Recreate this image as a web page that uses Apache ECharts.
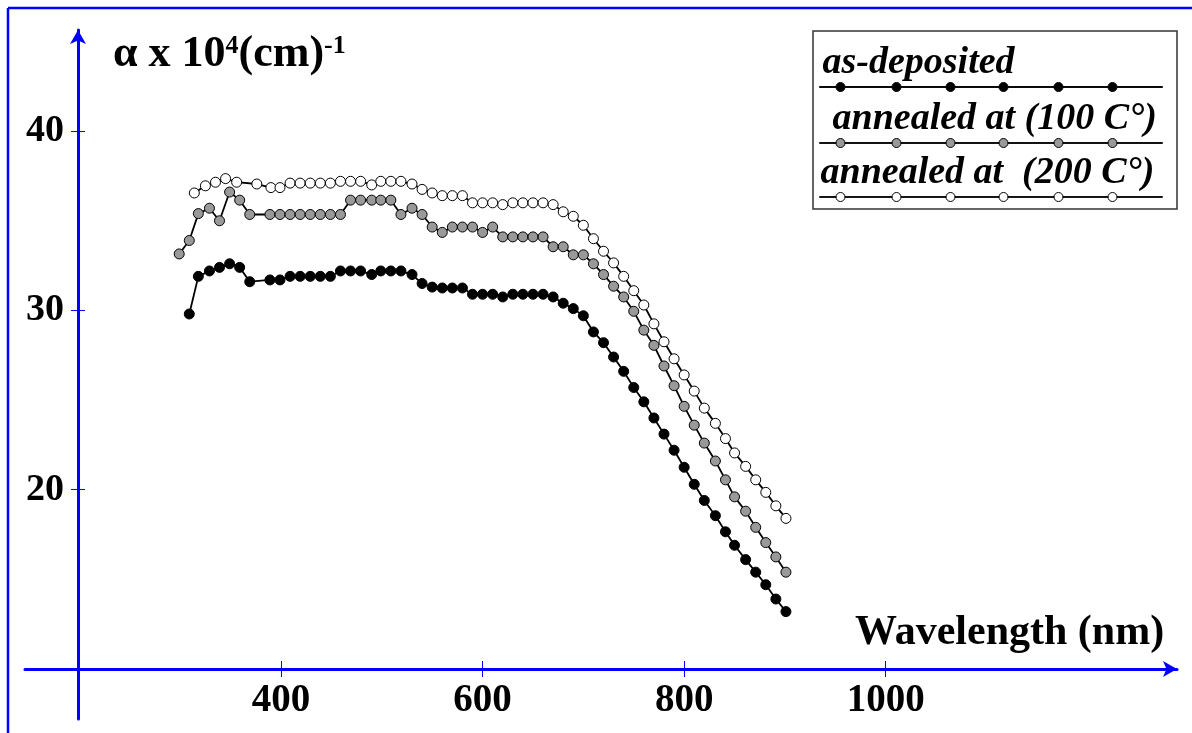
<!DOCTYPE html>
<html>
<head>
<meta charset="utf-8">
<title>Absorption coefficient vs wavelength</title>
<script src="https://cdn.jsdelivr.net/npm/echarts@6/dist/echarts.min.js"></script>
<style>
  html, body { margin: 0; padding: 0; background: #fff; }
  #main { width: 1192px; height: 733px; }
</style>
</head>
<body>
<div id="main"></div>
<script>
// data (wavelength nm, alpha x 10^4 cm^-1)
var names = ['as-deposited', 'annealed at (100 C°)', 'annealed at  (200 C°)'];
var fills = ['#000000', '#999999', '#ffffff'];

var asDepX = [309, 318, 329, 339, 349, 359, 369, 389, 399, 409, 419, 429, 439, 449, 459, 469, 479, 490, 499, 509, 519, 530,
  540, 550, 560, 570, 580, 590, 600, 610, 620, 630, 640, 650, 660, 670, 680, 690, 700, 710, 720, 730, 740, 750, 760, 770,
  780, 790, 800, 810, 820, 831, 841, 850, 861, 871, 881, 891, 901];
var asDepY = [29.8, 31.9, 32.2, 32.4, 32.6, 32.4, 31.6, 31.7, 31.7, 31.9, 31.9, 31.9, 31.9, 31.9, 32.2, 32.2, 32.2, 32.0, 32.2, 32.2, 32.2, 32.0,
  31.5, 31.3, 31.25, 31.25, 31.25, 30.9, 30.9, 30.9, 30.75, 30.9, 30.9, 30.9, 30.9, 30.75, 30.4, 30.1, 29.7, 28.8, 28.2, 27.4, 26.6, 25.7, 24.9, 24.0,
  23.1, 22.2, 21.25, 20.3, 19.4, 18.55, 17.65, 16.9, 16.1, 15.4, 14.7, 13.9, 13.2];

var ann100X = [299, 309, 318, 329, 339, 349, 359, 369, 389, 399, 409, 419, 429, 439, 449, 459, 469, 479, 490, 499, 509, 519,
  530, 540, 550, 560, 570, 580, 590, 600, 610, 620, 630, 640, 650, 660, 670, 680, 690, 700, 710, 720, 730, 740, 750, 760,
  770, 780, 790, 800, 810, 820, 831, 841, 850, 861, 871, 881, 891, 901];
var ann100Y = [33.15, 33.9, 35.4, 35.7, 35.0, 36.6, 36.15, 35.35, 35.35, 35.35, 35.35, 35.35, 35.35, 35.35, 35.35, 35.35, 36.15, 36.15, 36.15, 36.15, 36.15, 35.35,
  35.7, 35.35, 34.65, 34.35, 34.65, 34.65, 34.65, 34.35, 34.65, 34.1, 34.1, 34.1, 34.1, 34.1, 33.55, 33.55, 33.1, 33.1, 32.6, 32.0, 31.35, 30.75, 29.95, 28.9,
  28.05, 26.9, 25.8, 24.65, 23.6, 22.6, 21.6, 20.55, 19.6, 18.8, 17.9, 17.05, 16.25, 15.4];

var ann200X = [314, 325, 335, 345, 356, 376, 390, 399, 409, 419, 429, 439, 449, 459, 469, 479, 490, 499, 509, 519, 530,
  540, 550, 560, 570, 580, 590, 600, 610, 620, 630, 640, 650, 660, 670, 680, 690, 700, 710, 720, 730, 740, 750, 760, 770,
  780, 790, 800, 810, 820, 831, 841, 850, 861, 871, 881, 891, 901];
var ann200Y = [36.55, 36.95, 37.15, 37.35, 37.15, 37.05, 36.85, 36.85, 37.1, 37.1, 37.1, 37.1, 37.1, 37.2, 37.2, 37.2, 37.0, 37.2, 37.2, 37.2, 37.05,
  36.75, 36.55, 36.4, 36.4, 36.4, 36.0, 36.0, 36.0, 35.9, 36.0, 36.0, 36.0, 36.0, 35.9, 35.5, 35.25, 34.75, 34.0, 33.3, 32.65, 31.9, 31.1, 30.3, 29.25,
  28.25, 27.3, 26.4, 25.5, 24.55, 23.7, 22.85, 22.05, 21.3, 20.55, 19.85, 19.1, 18.4];

var xTicks = [400, 600, 800, 1000];
var yTicks = [20, 30, 40];

var BLUE = '#0000ff';
var SERIF = "'Liberation Serif', 'DejaVu Serif', serif";

function pairs(xs, ys) {
    var out = [];
    for (var i = 0; i < xs.length; i++) out.push([xs[i], ys[i]]);
    return out;
}

// legend icon: a line with six dots, drawn as a path (343 x 9)
var legendDots = [21, 77, 131, 184, 239, 293];
function legendIcon() {
    var r = 4.5, cy = 4.5, w = 343, p = '', x0 = 0;
    for (var i = 0; i < legendDots.length; i++) {
        var cx = legendDots[i];
        p += 'M' + x0 + ',4.1L' + (cx - r) + ',4.1L' + (cx - r) + ',4.9L' + x0 + ',4.9Z';
        p += 'M' + (cx - r) + ',' + cy + 'a' + r + ',' + r + ' 0 1,0 ' + (2 * r) + ',0a' + r + ',' + r + ' 0 1,0 ' + (-2 * r) + ',0Z';
        x0 = cx + r;
    }
    p += 'M' + x0 + ',4.1L' + w + ',4.1L' + w + ',4.9L' + x0 + ',4.9Z';
    return 'path://' + p;
}

// text sits above its icon: a second empty line pushes the name up
function makeLegend(i, lineY, textLeft) {
    return {
        left: 819,
        top: lineY - 48,
        padding: 0,
        selectedMode: false,
        itemWidth: 343,
        itemHeight: 9,
        data: [{
            name: names[i],
            icon: legendIcon(),
            itemStyle: { color: fills[i], borderColor: '#000', borderWidth: 1 }
        }],
        formatter: function(name) {
            return name + '\n ';
        },
        textStyle: {
            fontFamily: SERIF,
            fontSize: 38,
            lineHeight: 48,
            fontWeight: 'bold',
            fontStyle: 'italic',
            color: '#000',
            padding: [0, 0, 0, textLeft - 348]
        }
    };
}

function makeSeries(i, data) {
    return {
        name: names[i],
        type: 'line',
        data: data,
        symbol: 'circle',
        symbolSize: 10,
        showAllSymbol: true,
        lineStyle: { color: '#000', width: 1.8 },
        itemStyle: { color: fills[i], borderColor: '#000', borderWidth: 1 }
    };
}

var chart = echarts.init(document.getElementById('main'));

var option = {
    backgroundColor: '#fff',
    animation: false,
    title: [{
        left: 108,
        top: 28,
        text: '{a|α x 10}{s|4}{a|(cm)}{s|-1}',
        textStyle: {
            rich: {
                a: { fontFamily: SERIF, fontSize: 44, fontWeight: 'bold', color: '#000', verticalAlign: 'bottom' },
                s: { fontFamily: SERIF, fontSize: 26, fontWeight: 'bold', color: '#000', verticalAlign: 'top' }
            }
        }
    }, {
        left: 850,
        top: 607,
        text: 'Wavelength (nm)',
        textStyle: { fontFamily: SERIF, fontSize: 42, fontWeight: 'bold', color: '#000' }
    }],
    legend: [
        makeLegend(0, 87, 3),
        makeLegend(1, 143, 13),
        makeLegend(2, 197, 1)
    ],
    grid: { left: 25, right: 15, top: 30, bottom: 14 },
    xAxis: [{
        type: 'value',
        min: 146,
        max: 1289,
        position: 'bottom',
        offset: -50,
        axisLine: { lineStyle: { color: BLUE, width: 3 }, symbol: ['none', 'arrow'], symbolSize: [12, 14] },
        axisTick: { customValues: xTicks, length: 8, lineStyle: { color: BLUE, width: 1 } },
        axisLabel: {
            customValues: xTicks, margin: 12,
            formatter: function(v) { return String(v); },
            fontFamily: SERIF, fontSize: 39, fontWeight: 'bold', color: '#000'
        },
        splitLine: { show: false }
    }, {
        // inner half of the crossing ticks
        type: 'value',
        min: 146,
        max: 1289,
        position: 'bottom',
        offset: -50,
        axisLine: { show: false },
        axisTick: { customValues: xTicks, inside: true, length: 8, lineStyle: { color: BLUE, width: 1 } },
        axisLabel: { show: false },
        splitLine: { show: false }
    }],
    yAxis: [{
        type: 'value',
        min: 7.21,
        max: 45.64,
        position: 'left',
        offset: -53,
        axisLine: { show: true, lineStyle: { color: BLUE, width: 3 }, symbol: ['none', 'arrow'], symbolSize: [12, 14] },
        axisTick: { show: true, customValues: yTicks, length: 7, lineStyle: { color: BLUE, width: 1 } },
        axisLabel: {
            customValues: yTicks, margin: 14,
            fontFamily: SERIF, fontSize: 38, fontWeight: 'bold', color: '#000'
        },
        splitLine: { show: false }
    }, {
        type: 'value',
        min: 7.21,
        max: 45.64,
        position: 'left',
        offset: -53,
        axisLine: { show: false },
        axisTick: { show: true, customValues: yTicks, inside: true, length: 7, lineStyle: { color: BLUE, width: 1 } },
        axisLabel: { show: false },
        splitLine: { show: false }
    }],
    graphic: [
        // outer blue frame (top and left edges)
        { type: 'line', shape: { x1: 8, y1: 8, x2: 1192, y2: 8 }, style: { stroke: BLUE, lineWidth: 2.5 } },
        { type: 'line', shape: { x1: 8, y1: 8, x2: 8, y2: 733 }, style: { stroke: BLUE, lineWidth: 2.5 } },
        // legend frame
        { type: 'rect', shape: { x: 813, y: 31, width: 364, height: 178 }, style: { fill: 'none', stroke: '#333', lineWidth: 1.5 }, z: -1 }
    ],
    series: [
        makeSeries(0, pairs(asDepX, asDepY)),
        makeSeries(1, pairs(ann100X, ann100Y)),
        makeSeries(2, pairs(ann200X, ann200Y))
    ]
};

chart.setOption(option);
</script>
</body>
</html>
